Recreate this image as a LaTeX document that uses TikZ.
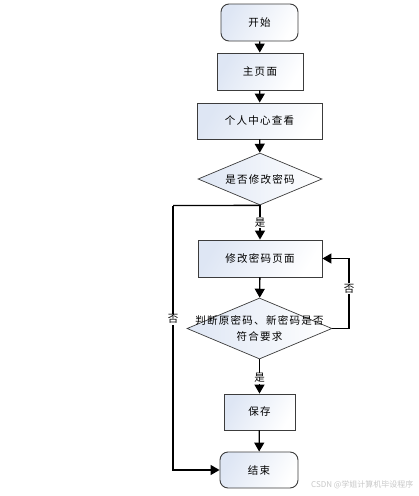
\documentclass[tikz,border=0pt]{standalone}
\usepackage{fontspec}
\newfontfamily\cjk[LetterSpace=12]{Noto Sans CJK SC}
\newfontfamily\cjkwm{Noto Sans CJK SC}
\usetikzlibrary{shapes.geometric,arrows.meta}
\definecolor{shadeblue}{RGB}{222,230,244}
\definecolor{edgegray}{RGB}{60,60,60}
\begin{document}
\begin{tikzpicture}[x=1pt,y=-1pt,
  every node/.style={font=\cjk\fontsize{10.5}{13}\selectfont},
  procbox/.style={draw=edgegray,line width=0.9pt,left color=shadeblue,right color=white,shading angle=60,inner sep=0pt},
  termbox/.style={procbox,rounded corners=8pt},
  decbox/.style={diamond,draw=edgegray,line width=0.7pt,left color=shadeblue,right color=white,inner sep=0pt,aspect=2},
  conn/.style={line width=1.3pt,-{Triangle[length=9pt,width=10pt]}},
  plain/.style={line width=1.3pt},
  lab/.style={fill=white,inner sep=1pt}]
\useasboundingbox (0,0) rectangle (419,496);
\node[termbox,minimum width=77,minimum height=37] (start) at (259.5,22.5) {开始};
\node[procbox,minimum width=86,minimum height=37] (main) at (260,71.5) {主页面};
\node[procbox,minimum width=125,minimum height=36] (pc) at (259.5,121) {个人中心查看};
\node[decbox,minimum width=124,minimum height=52] (d1) at (260,179) {};
\node (d1t) at (d1) {是否修改密码};
\node[procbox,minimum width=124,minimum height=37] (mod) at (260,258.5) {修改密码页面};
\node[decbox,minimum width=145,minimum height=61] (d2) at (259.5,328.5) {};
\node[align=center,font=\cjk\fontsize{10.5}{16}\selectfont] (d2t) at (259.5,328.5) {判断原密码、新密码是否\\符合要求};
\node[procbox,minimum width=71,minimum height=36] (save) at (259.5,412) {保存};
\node[termbox,minimum width=78,minimum height=36] (end) at (259,470) {结束};
\coordinate (lc1) at (173,205.5);
\coordinate (lc2) at (173,470);
\coordinate (rc1) at (349,328.5);
\coordinate (rc2) at (349,258.5);
\draw[conn] (start) -- (main);
\draw[conn] (main) -- (pc);
\draw[conn] (pc) -- (d1);
\draw[conn] (d1.south) -- node[lab,pos=0.5] (y1) {是} (mod.north);
\draw[plain] (d1.south) -- (lc1);
\draw[conn] (lc1) -- node[lab,pos=0.43] (n1) {否} (lc2) -- (end.west);
\draw[conn] (mod) -- (d2);
\draw[conn] (d2.east) -- (rc1) -- node[lab,pos=0.57] (n2) {否} (rc2) -- (mod.east);
\draw[conn] (d2.south) -- node[lab,pos=0.55] (y2) {是} (save.north);
\draw[conn] (save) -- (end);
\node[text=black!22,font=\cjkwm\fontsize{8}{10}\selectfont,anchor=east] (wm) at (417,485) {CSDN @学姐计算机毕设程序};
\end{tikzpicture}
\end{document}
